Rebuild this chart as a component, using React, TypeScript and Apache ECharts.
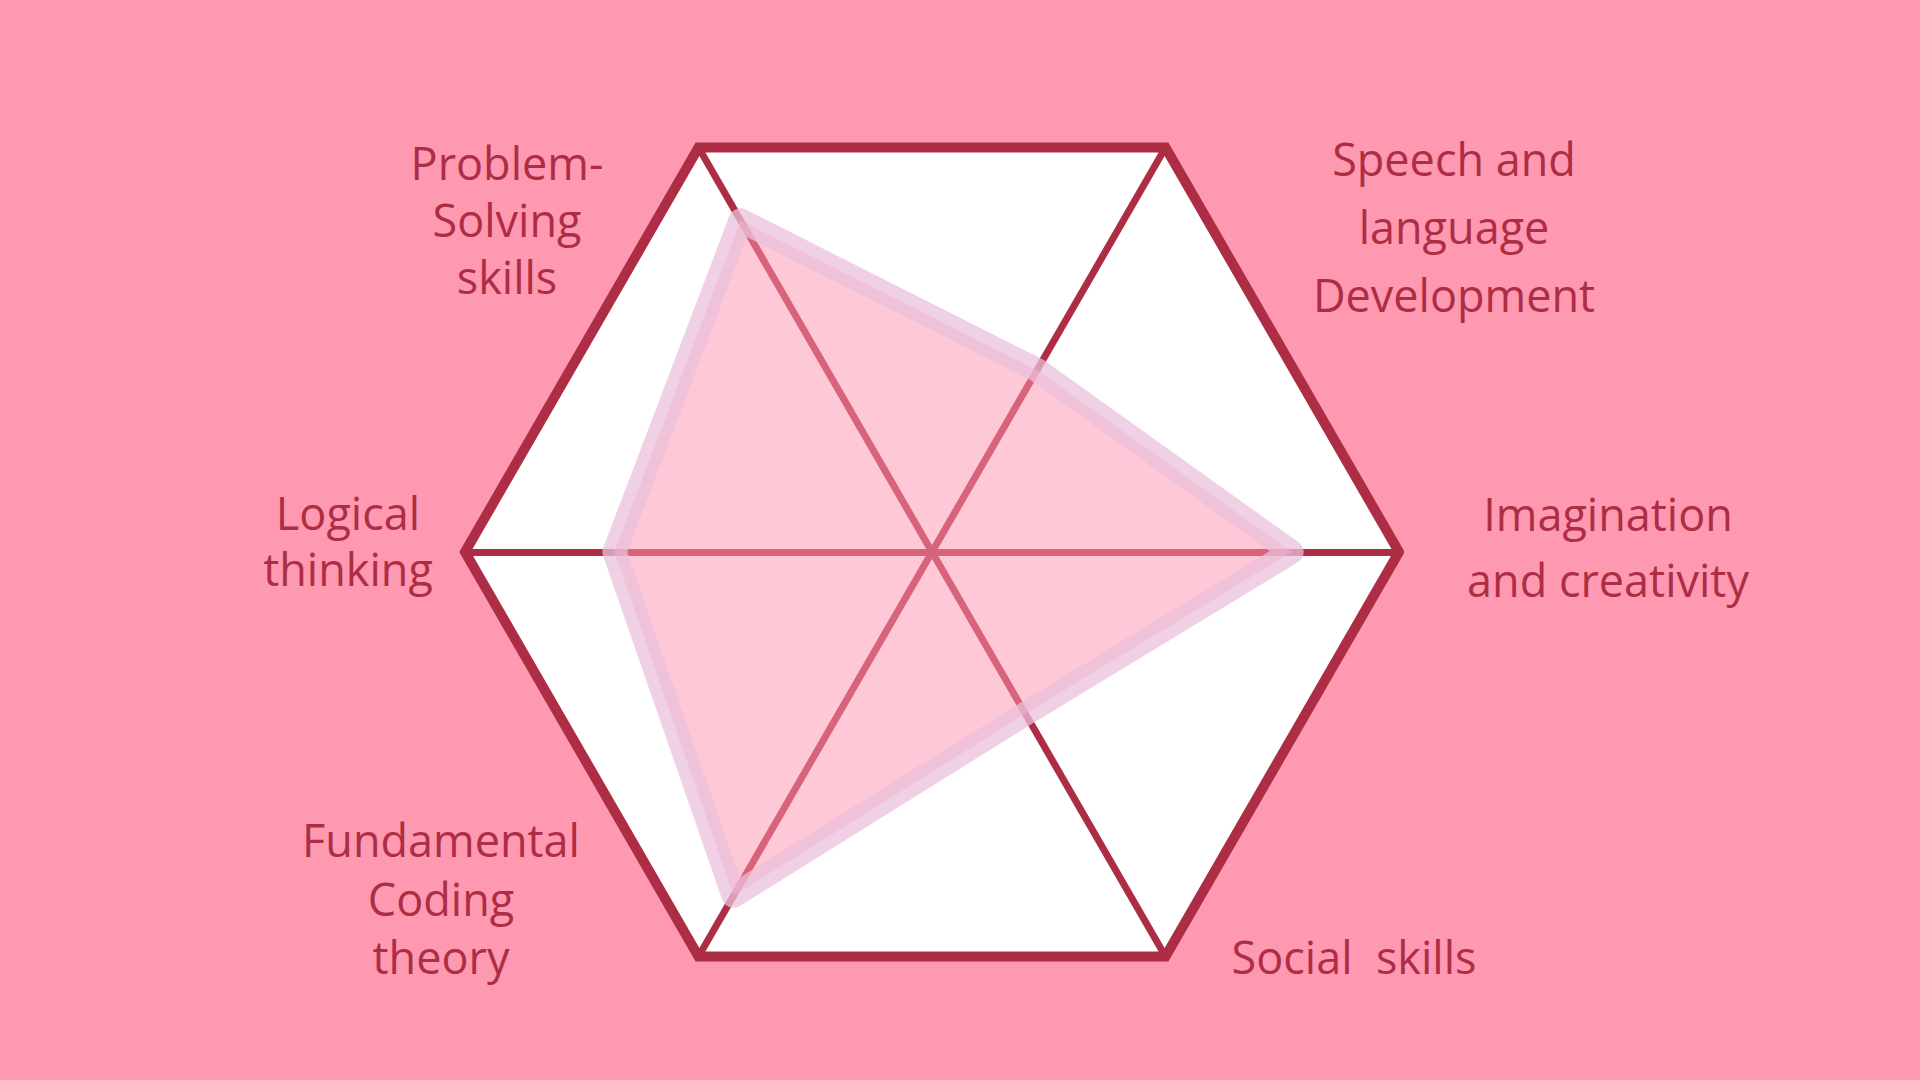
import React, { useEffect, useRef } from "react";
import * as echarts from "echarts";

// Indicators, in counter-clockwise order starting from the right (0°)
const INDICATORS: string[] = [
  "Imagination\nand creativity",
  "Speech and\nlanguage\nDevelopment",
  "Problem-\nSolving\nskills",
  "Logical\nthinking",
  "Fundamental\nCoding\ntheory",
  "Social  skills",
];
const MAX_VALUE = 100;
const SKILL_VALUES: number[] = [77, 45, 82, 68, 85, 40];

// Label layout (centre x, centre y, line height) — styling only
const LABEL_LAYOUT: { x: number; y: number; lh: number }[] = [
  { x: 1608, y: 546, lh: 66 },
  { x: 1454, y: 226, lh: 68 },
  { x: 507, y: 219, lh: 57 },
  { x: 348, y: 540, lh: 56 },
  { x: 441, y: 898, lh: 58.5 },
  { x: 1354, y: 956, lh: 58 },
];

const BG = "#FF99B2";
const DARK = "#AD2E44";
const FONT = "'Open Sans', 'Noto Sans', sans-serif";
const FONT_SIZE = 45;

export default function App() {
  const ref = useRef<HTMLDivElement>(null);
  useEffect(() => {
    document.body.style.margin = "0";
    if (!ref.current) return;
    const chart = echarts.init(ref.current, undefined, { renderer: "svg" });
    chart.setOption({
      animation: false,
      backgroundColor: BG,
      radar: {
        center: [932, 552],
        radius: 467,
        startAngle: 0,
        shape: "polygon",
        splitNumber: 1,
        indicator: INDICATORS.map((name) => ({ name, max: MAX_VALUE, min: 0 })),
        axisName: { show: false },
        splitArea: { show: true, areaStyle: { color: ["#FFFFFF"] } },
        splitLine: { lineStyle: { color: DARK, width: 10, join: "miter", cap: "round" } },
        axisLine: { lineStyle: { color: DARK, width: 7 } },
        axisTick: { show: false },
      },
      series: [
        {
          type: "radar",
          symbol: "none",
          data: [
            {
              value: SKILL_VALUES,
              name: "Skills",
              lineStyle: { width: 0, opacity: 0 },
              areaStyle: { color: "rgba(255,150,176,0.52)", opacity: 1 },
            },
          ],
        },
        {
          type: "radar",
          symbol: "none",
          data: [
            {
              value: SKILL_VALUES,
              name: "Skills outline",
              lineStyle: { color: "rgba(235,192,219,0.75)", width: 24, join: "round", cap: "round" },
            },
          ],
        },
      ],
      graphic: INDICATORS.map((name, i) => ({
        type: "text",
        x: LABEL_LAYOUT[i].x,
        y: LABEL_LAYOUT[i].y,
        style: {
          text: name,
          fill: DARK,
          fontSize: FONT_SIZE,
          fontWeight: 500,
          fontFamily: FONT,
          lineHeight: LABEL_LAYOUT[i].lh,
          textAlign: "center",
          textVerticalAlign: "middle",
        },
      })),
    });
    return () => chart.dispose();
  }, []);
  return <div ref={ref} style={{ width: "1920px", height: "1080px" }} />;
}
